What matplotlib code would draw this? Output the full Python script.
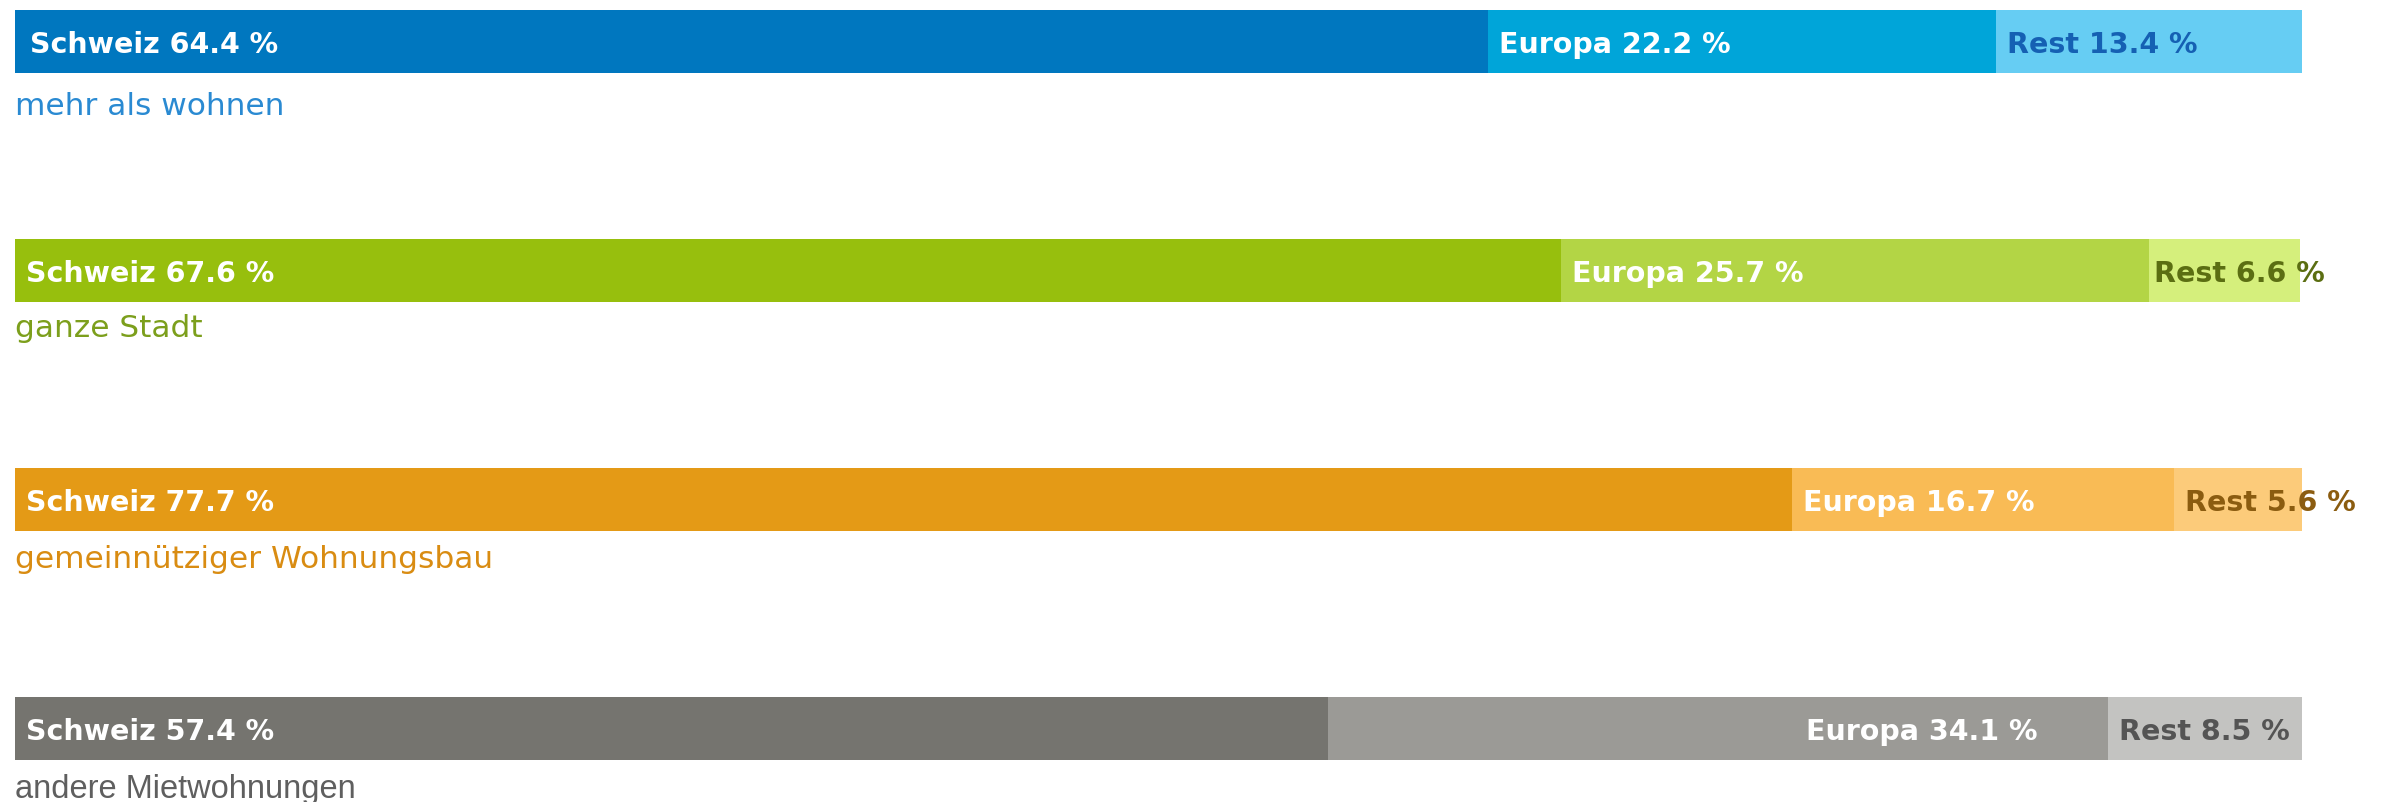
import matplotlib
matplotlib.use('Agg')
import matplotlib.pyplot as plt

categories = ['mehr als wohnen', 'ganze Stadt', 'gemeinnütziger Wohnungsbau', 'andere Mietwohnungen']
segments = ['Schweiz', 'Europa', 'Rest']
schweiz = [64.4, 67.6, 77.7, 57.4]
europa = [22.2, 25.7, 16.7, 34.1]
rest = [13.4, 6.6, 5.6, 8.5]

bar_colors = [
    ['#0077bf', '#00a5d9', '#66cdf3'],
    ['#97bf0d', '#b3d545', '#d5ef7c'],
    ['#e49a16', '#f9bb55', '#fccb7a'],
    ['#75746f', '#9b9a96', '#c3c3c1'],
]
text_colors = [
    ['white', 'white', '#1560b3'],
    ['white', 'white', '#5b6e12'],
    ['white', 'white', '#8b5c10'],
    ['white', 'white', '#545454'],
]
cat_colors = ['#2a8ad2', '#7c9f1c', '#d98c12', '#5f5f5f']
cat_fonts = ['DejaVu Sans', 'DejaVu Sans', 'DejaVu Sans', 'Liberation Sans']
cat_sizes = [22.5, 22.5, 22.5, 23.5]
cat_offs = [0.28, 0.25, 0.26, 0.265]

W, H = 2386, 803
fig = plt.figure(figsize=(W / 100, H / 100), dpi=100)
ax = fig.add_axes([15 / W, 0, (2302 - 15) / W, 1])
ax.set_xlim(0, 100)
row = 229
ax.set_ylim((H - 42) / row, -42 / row)
ax.axis('off')

bh = 63 / row
for i, cat in enumerate(categories):
    vals = [schweiz[i], europa[i], rest[i]]
    left = 0
    for j, v in enumerate(vals):
        ax.barh(i, v, left=left, height=bh, color=bar_colors[i][j], linewidth=0)
        label = f'{segments[j]} {v} %'
        if i == 3 and j == 1:
            ax.annotate(label, (left + v, i), xytext=(-70, 0), textcoords='offset pixels',
                        ha='right', va='center_baseline', fontsize=20.5, fontweight='bold',
                        color=text_colors[i][j])
        else:
            dx = 15 if (i == 0 and j == 0) else 11
            if i == 1 and j == 2:
                dx = 5
            ax.annotate(label, (left, i), xytext=(dx, 0), textcoords='offset pixels',
                        ha='left', va='center_baseline', fontsize=20.5, fontweight='bold',
                        color=text_colors[i][j], annotation_clip=False)
        left += v
    ax.text(0, i + cat_offs[i], cat, ha='left', va='center', fontsize=cat_sizes[i],
            color=cat_colors[i], family=cat_fonts[i])

fig.savefig('out.png', dpi=100)
